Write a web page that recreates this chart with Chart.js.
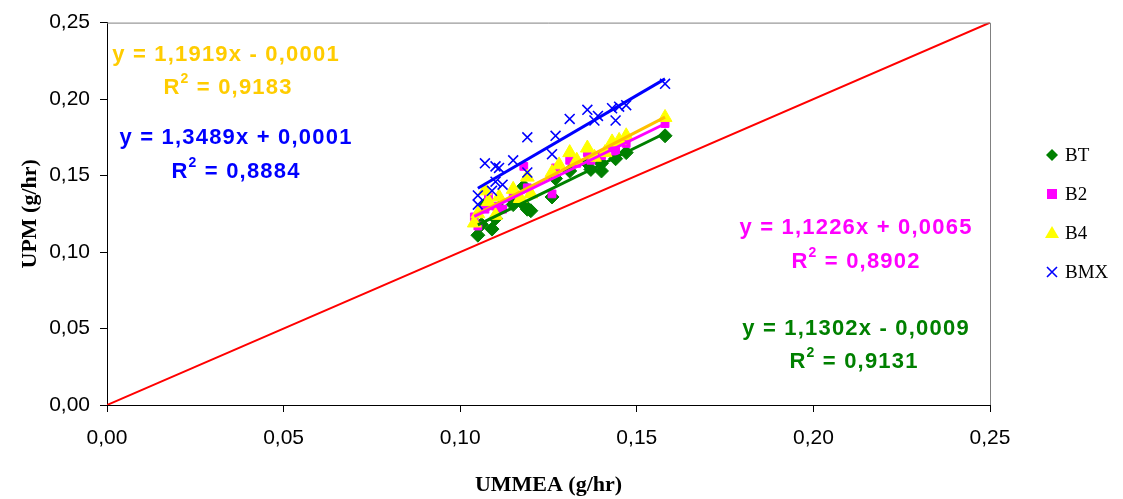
<!DOCTYPE html>
<html>
<head>
<meta charset="utf-8">
<script src="https://cdn.jsdelivr.net/npm/chart.js@4.4.1/dist/chart.umd.min.js"></script>
<style>
html,body{margin:0;padding:0;background:#fff;}
#wrap{width:1123px;height:499px;position:relative;}
</style>
</head>
<body>
<div id="wrap"><canvas id="c" width="1123" height="499"></canvas></div>
<script>
// ---- data ----
const seriesNames = ['BT', 'B2', 'B4', 'BMX'];
const tickLabels = ['0,00', '0,05', '0,10', '0,15', '0,20', '0,25'];

const BT = [[0.105,0.111],[0.106,0.118],[0.107,0.131],[0.109,0.115],[0.110,0.122],[0.111,0.129],[0.115,0.131],[0.115,0.134],[0.118,0.143],[0.118,0.131],[0.119,0.128],[0.120,0.127],[0.126,0.136],[0.127,0.148],[0.131,0.153],[0.136,0.158],[0.137,0.154],[0.140,0.153],[0.140,0.158],[0.144,0.161],[0.147,0.165],[0.158,0.176]];
const B2 = [[0.104,0.123],[0.105,0.117],[0.107,0.128],[0.108,0.136],[0.110,0.130],[0.112,0.128],[0.115,0.138],[0.118,0.156],[0.119,0.142],[0.126,0.138],[0.127,0.155],[0.131,0.160],[0.133,0.158],[0.136,0.165],[0.137,0.160],[0.140,0.163],[0.143,0.168],[0.144,0.166],[0.146,0.172],[0.147,0.171],[0.158,0.184]];
const B4 = [[0.104,0.119],[0.105,0.125],[0.107,0.140],[0.108,0.133],[0.110,0.124],[0.111,0.136],[0.115,0.141],[0.117,0.135],[0.119,0.149],[0.120,0.138],[0.126,0.152],[0.128,0.157],[0.131,0.165],[0.133,0.160],[0.136,0.168],[0.138,0.162],[0.141,0.165],[0.143,0.172],[0.145,0.173],[0.147,0.176],[0.158,0.188]];
const BMX = [[0.105,0.137],[0.105,0.131],[0.107,0.158],[0.109,0.140],[0.110,0.146],[0.110,0.156],[0.111,0.155],[0.112,0.144],[0.115,0.160],[0.119,0.152],[0.119,0.175],[0.126,0.164],[0.127,0.176],[0.131,0.187],[0.136,0.193],[0.138,0.186],[0.139,0.189],[0.143,0.194],[0.144,0.186],[0.145,0.195],[0.147,0.196],[0.158,0.210]];

// trendline equations as printed on the chart
const slopes = [1.1302, 1.1226, 1.1919, 1.3489];
const intercepts = [-0.0009, 0.0065, -0.0001, 0.0001];
const eqTexts = ['y = 1,1302x - 0,0009', 'y = 1,1226x + 0,0065', 'y = 1,1919x - 0,0001', 'y = 1,3489x + 0,0001'];
const r2Texts = ['0,9131', '0,8902', '0,9183', '0,8884'];
const diagonal = [[0, 0], [0.25, 0.25]];

// ---- styles ----
const markerColors = ['#008000', '#FF00FF', '#FFFF00', '#0000FF'];
const lineColors = ['#008000', '#FF00FF', '#FFC000', '#0000FF'];
const textColors = ['#008000', '#FF00FF', '#FFCC00', '#0000FF'];
const pointStyles = ['rectRot', 'rect', 'triangle', 'crossRot'];
const pointRadii = [7, 5.5, 8, 7];
// equation label positions (pixel centres: eq line, r2 line)
const eqPos = [[856, 329, 854, 362], [856, 228, 856, 262], [226, 55, 228, 88], [236, 138, 236, 172]];

const allSeries = [BT, B2, B4, BMX];
const toPts = arr => arr.map(p => ({x: p[0], y: p[1]}));

const datasets = [];
allSeries.forEach((s, i) => {
  const xs = s.map(p => p[0]);
  const x0 = Math.min(...xs), x1 = Math.max(...xs);
  datasets.push({
    type: 'line', label: seriesNames[i] + ' trend',
    data: [{x: x0, y: slopes[i] * x0 + intercepts[i]}, {x: x1, y: slopes[i] * x1 + intercepts[i]}],
    borderColor: lineColors[i], borderWidth: 3, pointRadius: 0, fill: false, order: 1
  });
});
datasets.push({
  type: 'line', label: 'y = x', data: toPts(diagonal),
  borderColor: '#FF0000', borderWidth: 2, pointRadius: 0, fill: false, order: 2
});
allSeries.forEach((s, i) => {
  datasets.push({
    type: 'scatter', label: seriesNames[i], data: toPts(s),
    pointStyle: pointStyles[i], pointRadius: pointRadii[i],
    backgroundColor: markerColors[i], borderColor: markerColors[i],
    borderWidth: i === 3 ? 1.6 : 1, order: 3 + (3 - i)
  });
});

const EQ_FONT = 'bold 22px "Liberation Sans", Arial, sans-serif';
const SUP_FONT = 'bold 14px "Liberation Sans", Arial, sans-serif';

const overlay = {
  id: 'overlay',
  afterDraw(chart) {
    const ctx = chart.ctx;
    const a = chart.chartArea;
    ctx.save();
    ctx.strokeStyle = '#808080';
    ctx.lineWidth = 1;
    ctx.beginPath();
    ctx.moveTo(a.left, a.top + 0.5);
    ctx.lineTo(a.right + 0.5, a.top + 0.5);
    ctx.lineTo(a.right + 0.5, a.bottom);
    ctx.stroke();

    ctx.textBaseline = 'middle';
    ctx.letterSpacing = '1.2px';
    for (let i = 0; i < 4; i++) {
      const [ex, ey, rx, ry] = eqPos[i];
      ctx.fillStyle = textColors[i];
      ctx.font = EQ_FONT;
      ctx.textAlign = 'center';
      ctx.fillText(eqTexts[i], ex, ey);
      const rest = ' = ' + r2Texts[i];
      ctx.font = EQ_FONT;
      const wR = ctx.measureText('R').width;
      const wRest = ctx.measureText(rest).width;
      ctx.font = SUP_FONT;
      const w2 = ctx.measureText('2').width;
      const total = wR + w2 + wRest;
      let x = rx - total / 2;
      ctx.textAlign = 'left';
      ctx.font = EQ_FONT;
      ctx.fillText('R', x, ry);
      x += wR;
      ctx.font = SUP_FONT;
      ctx.fillText('2', x, ry - 9);
      x += w2;
      ctx.font = EQ_FONT;
      ctx.fillText(rest, x, ry);
    }
    ctx.letterSpacing = '0px';

    const legY = [155, 194, 233, 272];
    const mx = 1052;
    for (let i = 0; i < 4; i++) {
      const y = legY[i];
      ctx.fillStyle = markerColors[i];
      ctx.strokeStyle = markerColors[i];
      ctx.beginPath();
      if (i === 0) {
        ctx.moveTo(mx, y - 6); ctx.lineTo(mx + 6, y); ctx.lineTo(mx, y + 6); ctx.lineTo(mx - 6, y); ctx.closePath(); ctx.fill();
      } else if (i === 1) {
        ctx.rect(mx - 5, y - 5, 10, 10); ctx.fill();
      } else if (i === 2) {
        ctx.moveTo(mx, y - 7); ctx.lineTo(mx + 7, y + 5); ctx.lineTo(mx - 7, y + 5); ctx.closePath(); ctx.fill();
      } else {
        ctx.lineWidth = 1.6;
        ctx.moveTo(mx - 5, y - 5); ctx.lineTo(mx + 5, y + 5);
        ctx.moveTo(mx + 5, y - 5); ctx.lineTo(mx - 5, y + 5); ctx.stroke();
      }
      ctx.fillStyle = '#000';
      ctx.font = '19px "Liberation Serif", "Times New Roman", serif';
      ctx.textAlign = 'left';
      ctx.fillText(seriesNames[i], 1065, y + 1);
    }
    ctx.restore();
  }
};

new Chart(document.getElementById('c'), {
  type: 'scatter',
  data: {datasets},
  plugins: [overlay],
  options: {
    responsive: false,
    animation: false,
    layout: {padding: {top: 20, right: 133, left: 0, bottom: 0}},
    plugins: {legend: {display: false}, tooltip: {enabled: false}},
    scales: {
      x: {
        type: 'linear', min: 0, max: 0.25,
        afterFit: s => { s.height = 94; },
        ticks: {stepSize: 0.05, color: '#000', padding: 14,
          font: {family: '"Liberation Sans", Arial, sans-serif', size: 21},
          callback: (v, i) => tickLabels[i]},
        grid: {display: true, drawOnChartArea: false, tickLength: 7, color: '#000'},
        border: {color: '#000', width: 1},
        title: {display: true, text: 'UMMEA (g/hr)', color: '#000',
          font: {family: '"Liberation Serif", "Times New Roman", serif', size: 22, weight: 'bold'},
          padding: {top: 0, bottom: 0}}
      },
      y: {
        type: 'linear', min: 0, max: 0.25,
        afterFit: s => { s.width = 107; },
        ticks: {stepSize: 0.05, color: '#000', padding: 10,
          font: {family: '"Liberation Sans", Arial, sans-serif', size: 21},
          callback: (v, i) => tickLabels[i]},
        grid: {display: true, drawOnChartArea: false, tickLength: 7, color: '#000'},
        border: {color: '#000', width: 1},
        title: {display: true, text: 'UPM (g/hr)', color: '#000',
          font: {family: '"Liberation Serif", "Times New Roman", serif', size: 22, weight: 'bold'},
          padding: {top: 17, bottom: 0}}
      }
    }
  }
});
</script>
</body>
</html>
